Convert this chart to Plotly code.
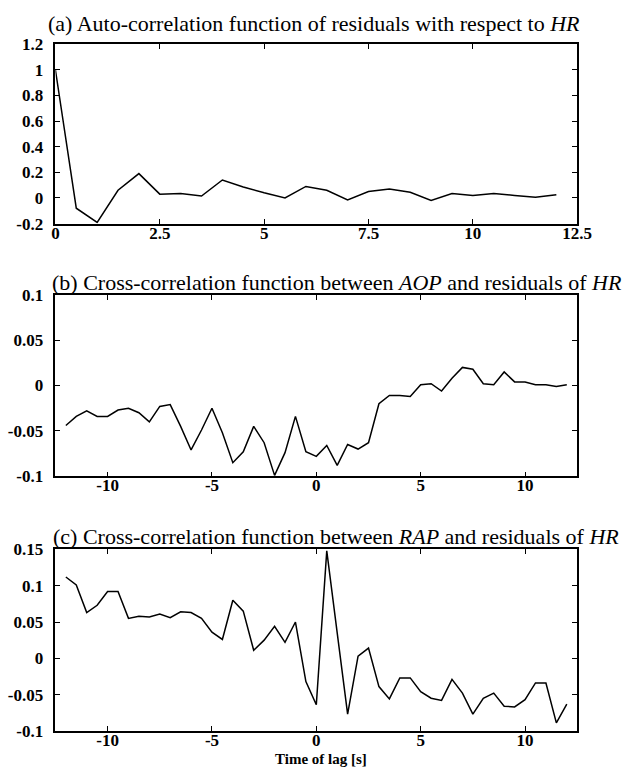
import plotly.graph_objects as go

# (a) auto-correlation of HR residuals, lag 0..12 s in 0.5 s steps
lag_a = [i * 0.5 for i in range(25)]
acf_hr = [1.0, -0.08, -0.19, 0.06, 0.19, 0.03, 0.035, 0.015, 0.14, 0.085,
          0.04, 0.0, 0.09, 0.06, -0.015, 0.05, 0.07, 0.045, -0.02, 0.035,
          0.02, 0.035, 0.02, 0.005, 0.025]

# (b) and (c) cross-correlations, lag -12..12 s in 0.5 s steps
lag_bc = [-12 + i * 0.5 for i in range(49)]
ccf_aop = [-0.044, -0.034, -0.028, -0.034, -0.034, -0.027, -0.025, -0.030,
           -0.040, -0.023, -0.021, -0.045, -0.071, -0.049, -0.025, -0.052,
           -0.085, -0.073, -0.045, -0.063, -0.099, -0.074, -0.034, -0.073,
           -0.078, -0.066, -0.088, -0.065, -0.070, -0.063, -0.020, -0.011,
           -0.011, -0.012, 0.001, 0.002, -0.006, 0.008, 0.020, 0.018,
           0.002, 0.001, 0.015, 0.004, 0.004, 0.001, 0.001, -0.001, 0.001]
ccf_rap = [0.112, 0.101, 0.063, 0.073, 0.092, 0.092, 0.055, 0.058,
           0.057, 0.061, 0.056, 0.064, 0.063, 0.055, 0.036, 0.026,
           0.080, 0.065, 0.011, 0.025, 0.044, 0.022, 0.050, -0.032,
           -0.064, 0.148, 0.035, -0.077, 0.003, 0.014, -0.039, -0.056,
           -0.027, -0.027, -0.046, -0.055, -0.058, -0.029, -0.048, -0.077,
           -0.055, -0.048, -0.066, -0.067, -0.057, -0.034, -0.034, -0.089,
           -0.063]

ticks_a_x = [0, 2.5, 5, 7.5, 10, 12.5]
ticks_a_x_text = ["0", "2.5", "5", "7.5", "10", "12.5"]
ticks_a_y = [-0.2, 0, 0.2, 0.4, 0.6, 0.8, 1.0, 1.2]
ticks_a_y_text = ["-0.2", "0", "0.2", "0.4", "0.6", "0.8", "1", "1.2"]
ticks_bc_x = [-10, -5, 0, 5, 10]
ticks_bc_x_text = ["-10", "-5", "0", "5", "10"]
ticks_b_y = [-0.1, -0.05, 0, 0.05, 0.1]
ticks_b_y_text = ["-0.1", "-0.05", "0", "0.05", "0.1"]
ticks_c_y = [-0.1, -0.05, 0, 0.05, 0.1, 0.15]
ticks_c_y_text = ["-0.1", "-0.05", "0", "0.05", "0.1", "0.15"]

W, H = 632, 776
SERIF = "Liberation Serif, Times New Roman, serif"

fig = go.Figure()
fig.add_trace(go.Scatter(x=lag_a, y=acf_hr, mode="lines",
                         line=dict(color="black", width=1.5),
                         xaxis="x", yaxis="y", showlegend=False))
fig.add_trace(go.Scatter(x=lag_bc, y=ccf_aop, mode="lines",
                         line=dict(color="black", width=1.5),
                         xaxis="x2", yaxis="y2", showlegend=False))
fig.add_trace(go.Scatter(x=lag_bc, y=ccf_rap, mode="lines",
                         line=dict(color="black", width=1.5),
                         xaxis="x3", yaxis="y3", showlegend=False))

x_dom = [53 / W, 591 / W]


def ydom(top, bottom):
    return [1 - bottom / H, 1 - top / H]


tick_font = dict(family=SERIF, size=17, color="black", weight="bold")
common = dict(showline=True, linecolor="black", linewidth=1.5, mirror="ticks",
              ticks="inside", ticklen=5, tickwidth=1.3, tickcolor="black",
              showgrid=False, zeroline=False, tickfont=tick_font)
xcommon = dict(ticklabelstandoff=-7, **common)
ycommon = dict(ticklabelstandoff=7, **common)

fig.update_layout(
    width=W, height=H,
    margin=dict(l=0, r=0, t=0, b=0),
    paper_bgcolor="white", plot_bgcolor="white",
    xaxis=dict(domain=x_dom, range=[0, 12.5], tickvals=ticks_a_x,
               ticktext=ticks_a_x_text, anchor="y", **xcommon),
    yaxis=dict(domain=ydom(36, 220), range=[-0.2, 1.2], tickvals=ticks_a_y,
               ticktext=ticks_a_y_text, anchor="x", **ycommon),
    xaxis2=dict(domain=x_dom, range=[-12.5, 12.5], tickvals=ticks_bc_x,
                ticktext=ticks_bc_x_text, anchor="y2", **xcommon),
    yaxis2=dict(domain=ydom(293, 479), range=[-0.1, 0.1], tickvals=ticks_b_y,
                ticktext=ticks_b_y_text, anchor="x2", **ycommon),
    xaxis3=dict(domain=x_dom, range=[-12.5, 12.5], tickvals=ticks_bc_x,
                ticktext=ticks_bc_x_text, anchor="y3", **xcommon),
    yaxis3=dict(domain=ydom(554, 740), range=[-0.1, 0.15], tickvals=ticks_c_y,
                ticktext=ticks_c_y_text, anchor="x3", **ycommon),
)

title_font = dict(family=SERIF, size=22, color="black")
titles = [
    ("(a) Auto-correlation function of residuals with respect to <i>HR</i>", 320, 15),
    ("(b) Cross-correlation function between <i>AOP</i> and residuals of <i>HR</i>", 343, 280),
    ("(c) Cross-correlation function between <i>RAP</i> and residuals of <i>HR</i>", 342, 541),
]
for text, cx, cy in titles:
    fig.add_annotation(text=text, x=cx / W, y=1 - cy / H, xref="paper", yref="paper",
                       xanchor="center", yanchor="middle", showarrow=False,
                       font=title_font)

fig.add_annotation(text="Time of lag [s]", x=327 / W, y=1 - 769 / H,
                   xref="paper", yref="paper", xanchor="center", yanchor="middle",
                   showarrow=False,
                   font=dict(family=SERIF, size=15, color="black", weight="bold"))

fig.write_html("out.html")
